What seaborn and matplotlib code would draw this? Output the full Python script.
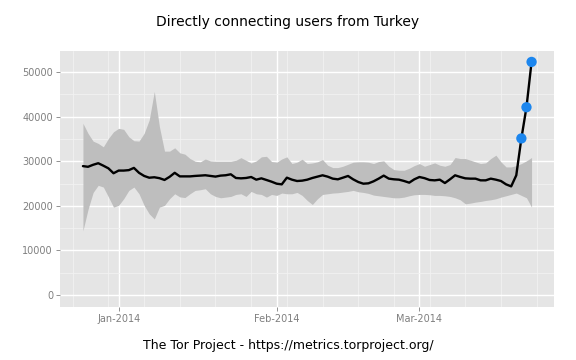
import pandas as pd
import matplotlib
matplotlib.use("Agg")
import matplotlib.pyplot as plt
import matplotlib.dates as mdates
import seaborn as sns

# daily values, 2013-12-25 .. 2014-03-23
start_date = "2013-12-25"
users = [28900, 28750, 29200, 29550, 29000, 28400, 27300, 27900, 27900, 28000,
         28500, 27400, 26700, 26300, 26400, 26200, 25800, 26500, 27400, 26600,
         26600, 26600, 26700,
         26770, 26850, 26700, 26550, 26770, 26850, 27070, 26240, 26160, 26240,
         26460, 25860, 26160, 25790, 25410, 24960, 24810, 26310, 25860, 25560,
         25640, 25860, 26240,
         26540, 26840, 26540, 26090, 25940, 26310, 26690, 25940, 25340, 24960,
         25040, 25490, 26090, 26770, 26090, 25940, 25860, 25560, 25190, 25940,
         26460,
         26200, 25790, 25710, 25860, 25110, 25940, 26840, 26470, 26160, 26090,
         26090, 25710, 25710, 26090, 25860, 25560, 24810, 24360, 26840, 35110,
         42100, 52260]
upper = [38500, 36240, 34500, 33990, 33230, 35110, 36600, 37370, 37140, 35490,
         34590, 34510, 36240, 39250, 45640, 37750, 32260, 32260, 33010, 31880,
         31580, 30600, 30000,
         29850, 30500, 30070, 30000, 30000, 30000, 30000, 30200, 30800, 30200,
         29600, 30070, 30980, 31100, 29930, 29780, 30500, 30980, 29470, 29780,
         30450, 29470, 29600,
         29850, 30380, 29100, 28570, 28570, 28870, 29320, 29770, 29850, 29850,
         29770, 29470, 29920, 30080, 28870, 28120, 27970, 27970, 28420, 29020,
         29470,
         28870, 29250, 29620, 29100, 28870, 29250, 30830, 30600, 30600, 30230,
         29850, 29470, 29620, 30600, 31350, 29850, 28720, 28720, 29020, 29470,
         30080, 30830]
lower = [14400, 19200, 23000, 24600, 24200, 22000, 19700, 20100, 21600, 23450,
         24200, 22700, 20100, 18200, 17050, 19700, 20100, 21600, 22700, 22000,
         21850, 22700, 23450,
         23600, 23830, 22700, 22100, 21800, 21950, 22100, 22550, 22700, 22100,
         23230, 22700, 22550, 21950, 22550, 22330, 22860, 22700, 22700, 23000,
         22330, 21200, 20300,
         21580, 22550, 22700, 22860, 22930, 23080, 23230, 23460, 23150, 23000,
         22780, 22400, 22250, 22100, 21950, 21800, 21800, 21950, 22250, 22480,
         22550,
         22560, 22480, 22330, 22330, 22250, 22100, 21800, 21350, 20450, 20600,
         20830, 20980, 21200, 21350, 21580, 21950, 22250, 22560, 22860, 22330,
         21800, 19700]

df = pd.DataFrame({"date": pd.date_range(start_date, periods=len(users), freq="D"),
                   "users": users, "upper": upper, "lower": lower})
events = df[df["users"] > df["upper"]]

sns.set_theme(style="darkgrid", rc={
    "axes.facecolor": "#E5E5E5",
    "grid.color": "white",
    "figure.facecolor": "white",
})
plt.rcParams["font.family"] = ["DejaVu Sans"]

fig = plt.figure(figsize=(5.76, 3.6), dpi=100)
ax = fig.add_axes([60 / 576, 1 - 306.7 / 360, 494 / 576, 255.7 / 360])

ax.fill_between(df["date"], df["lower"], df["upper"], color="#BEBEBE", linewidth=0, zorder=2)
sns.lineplot(data=df, x="date", y="users", color="black", linewidth=1.7, ax=ax, zorder=3)
sns.scatterplot(data=events, x="date", y="users", color="#1C86EE", s=55,
                edgecolor="none", ax=ax, zorder=4)

t0 = pd.Timestamp(start_date)
ax.set_xlim(t0 - pd.Timedelta(days=4.5), t0 + pd.Timedelta(days=92.4))
ax.set_ylim(-2620, 54710)

ax.xaxis.set_major_locator(mdates.MonthLocator())
ax.xaxis.set_major_formatter(mdates.DateFormatter("%b-%Y"))
ax.xaxis.set_minor_locator(mdates.WeekdayLocator(byweekday=mdates.MO))
ax.set_yticks([0, 10000, 20000, 30000, 40000, 50000])
ax.set_yticks([5000, 15000, 25000, 35000, 45000], minor=True)

ax.grid(which="major", color="white", linewidth=1.0)
ax.grid(which="minor", color="#F2F2F2", linewidth=0.6)
ax.set_axisbelow(True)
for s in ax.spines.values():
    s.set_visible(False)

ax.tick_params(which="major", length=3, width=0.6, color="#7F7F7F",
               labelcolor="#7F7F7F", labelsize=7, pad=2, bottom=True, left=True)
ax.tick_params(which="minor", length=0)

ax.set_ylabel("")
ax.set_xlabel("")
fig.text(0.5, 1 - 22 / 360, "Directly connecting users from Turkey",
         ha="center", va="center", fontsize=10.0, color="black")
fig.text(0.5, 1 - 345 / 360, "The Tor Project - https://metrics.torproject.org/",
         ha="center", va="center", fontsize=9.0, color="black")

fig.savefig("out.png", dpi=100)
